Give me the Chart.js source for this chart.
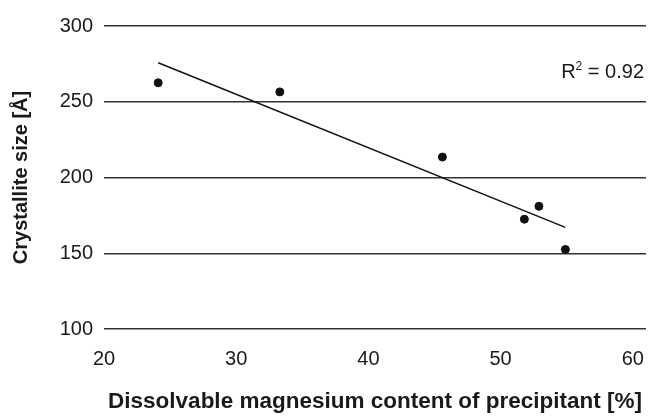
<!DOCTYPE html>
<html>
<head>
<meta charset="utf-8">
<script src="https://cdn.jsdelivr.net/npm/chart.js@4"></script>
<style>
  html, body { margin: 0; padding: 0; background: #fff; }
  canvas { display: block; }
</style>
</head>
<body>
<canvas id="chart" width="651" height="417"></canvas>
<script>
// measured points: magnesium content (%) vs crystallite size (Å)
const mgContent = [24.1, 33.3, 45.6, 51.8, 52.9, 54.9];
const crystalSize = [262.5, 256.5, 213.5, 172.5, 181, 152.5];

// linear trend line end points as drawn in the figure
const trendX = [24.1, 54.9];
const trendY = [275.7, 167.1];

const xTicks = [20, 30, 40, 50, 60];
const yTicks = [100, 150, 200, 250, 300];
const rSquared = '0.92';

const FONT = '"Liberation Sans", Arial, Helvetica, sans-serif';

const r2Label = {
  id: 'r2Label',
  afterDatasetsDraw(chart) {
    const { ctx, chartArea, scales } = chart;
    const y = scales.y.getPixelForValue(269);
    const right = chartArea.right - 2;
    ctx.save();
    ctx.fillStyle = '#1a1a1a';
    ctx.textBaseline = 'middle';
    ctx.textAlign = 'right';
    ctx.font = '20px ' + FONT;
    const rest = ' = ' + rSquared;
    ctx.fillText(rest, right, y);
    const restW = ctx.measureText(rest).width;
    ctx.font = '12px ' + FONT;
    ctx.fillText('2', right - restW, y - 6);
    const supW = ctx.measureText('2').width;
    ctx.font = '20px ' + FONT;
    ctx.fillText('R', right - restW - supW, y);
    ctx.restore();
  }
};

new Chart(document.getElementById('chart'), {
  type: 'scatter',
  data: {
    datasets: [
      {
        label: 'Crystallite size',
        data: mgContent.map((x, i) => ({ x, y: crystalSize[i] })),
        backgroundColor: '#111',
        borderColor: '#111',
        pointRadius: 4,
        pointHoverRadius: 4
      },
      {
        label: 'Trend',
        type: 'line',
        data: trendX.map((x, i) => ({ x, y: trendY[i] })),
        borderColor: '#111',
        borderWidth: 1.5,
        pointRadius: 0,
        fill: false
      }
    ]
  },
  options: {
    responsive: false,
    animation: false,
    devicePixelRatio: 1,
    layout: { padding: { top: 26, right: 3, left: 0, bottom: 0 } },
    plugins: {
      legend: { display: false },
      tooltip: { enabled: false }
    },
    scales: {
      x: {
        type: 'linear',
        min: 20,
        max: 61,
        afterBuildTicks: scale => { scale.ticks = xTicks.map(v => ({ value: v })); },
        afterFit: scale => {
          scale.height = 88;
          scale.paddingLeft = 0;
          scale.paddingRight = 0;
        },
        grid: { display: false, drawTicks: false },
        border: { display: false },
        ticks: {
          padding: 18,
          color: '#1a1a1a',
          font: { family: FONT, size: 20 }
        },
        title: {
          display: true,
          text: 'Dissolvable magnesium content of precipitant [%]',
          color: '#1a1a1a',
          font: { family: FONT, size: 22.5, weight: 'bold' },
          padding: { top: 4, bottom: 2 }
        }
      },
      y: {
        type: 'linear',
        min: 100,
        max: 300,
        afterBuildTicks: scale => { scale.ticks = yTicks.map(v => ({ value: v })); },
        afterFit: scale => { scale.width = 104; },
        grid: { color: '#333', lineWidth: 1.5, drawTicks: false },
        border: { display: false },
        ticks: {
          padding: 11,
          color: '#1a1a1a',
          font: { family: FONT, size: 20 }
        },
        title: {
          display: true,
          text: 'Crystallite size [Å]',
          color: '#1a1a1a',
          font: { family: FONT, size: 20, weight: 'bold' },
          padding: { top: 9, bottom: 0 }
        }
      }
    }
  },
  plugins: [r2Label]
});
</script>
</body>
</html>
